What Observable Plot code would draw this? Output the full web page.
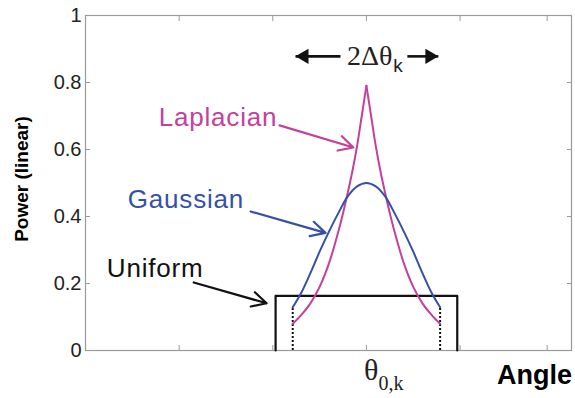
<!DOCTYPE html>
<html>
<head>
<meta charset="utf-8">
<script src="https://cdn.jsdelivr.net/npm/d3@7"></script>
<script src="https://cdn.jsdelivr.net/npm/@observablehq/plot@0.6"></script>
<style>
  html, body { margin: 0; padding: 0; background: #fff; }
  #chart svg { display: block; }
</style>
</head>
<body>
<div id="chart"></div>
<script>
// Angular power profiles around the cluster mean angle θ0,k (angle in tick units)
const gaussX = [-0.787, -0.7, -0.6, -0.5, -0.4, -0.3, -0.2, -0.1, 0, 0.1, 0.2, 0.3, 0.4, 0.5, 0.6, 0.7, 0.787];
const gaussY = [0.129, 0.17, 0.23, 0.295, 0.355, 0.41, 0.46, 0.49, 0.50, 0.49, 0.46, 0.41, 0.355, 0.295, 0.23, 0.17, 0.129];

const lapX = [-0.787, -0.7, -0.6, -0.5, -0.4, -0.3, -0.25, -0.2, -0.15, -0.1, -0.05, 0, 0.05, 0.1, 0.15, 0.2, 0.25, 0.3, 0.4, 0.5, 0.6, 0.7, 0.787];
const lapY = [0.08, 0.105, 0.14, 0.19, 0.26, 0.355, 0.41, 0.47, 0.535, 0.61, 0.70, 0.79, 0.70, 0.61, 0.535, 0.47, 0.41, 0.355, 0.26, 0.19, 0.14, 0.105, 0.08];

// Uniform profile: a box of constant power over the cluster spread
const uniX = [-0.97, -0.97, 0.97, 0.97];
const uniY = [0, 0.163, 0.163, 0];

// Dotted edges of the truncated Gaussian / Laplacian profiles
const edgeX = [-0.787, 0.787];
const edgeTop = 0.129;

// Axis ticks
const xTicks = [-2, -1, 0, 1, 1.93];
const yTicks = [0, 0.2, 0.4, 0.6, 0.8, 1];

// Annotation labels and their pointer arrows
const labelNames = ["Laplacian", "Gaussian", "Uniform"];
const labelX = [-2.218, -2.548, -2.772];
const labelY = [0.669, 0.424, 0.218];
const arrowX1 = [-0.928, -1.237, -1.844];
const arrowY1 = [0.672, 0.415, 0.203];
const arrowX2 = [-0.139, -0.437, -1.066];
const arrowY2 = [0.606, 0.351, 0.141];

// Angular spread marker "2Δθk"
const spanFrom = [-0.277, 0.437];
const spanTip = [-0.757, 0.768];
const spanY = 0.878;
const spanTextX = 0.277;
const spanTextY = 0.851;

const MAGENTA = "#c4409f";
const BLUE = "#3551a6";
const INK = "#111";
const GRID = "#9a9a9a";
const SERIF = "'Liberation Serif', 'Times New Roman', serif";
const labelColors = [MAGENTA, BLUE, INK];

const gauss = gaussX.map((x, i) => ({x, y: gaussY[i]}));
const lap = [];
lapX.forEach((x, i) => {
  if (x <= 0) lap.push({x, y: lapY[i], side: "left"});
  if (x >= 0) lap.push({x, y: lapY[i], side: "right"});
});
const uni = uniX.map((x, i) => ({x, y: uniY[i]}));
const labels = labelNames.map((name, i) => ({name, x: labelX[i], y: labelY[i], color: labelColors[i]}));
const arrows = arrowX1.map((x1, i) => ({x1, y1: arrowY1[i], x2: arrowX2[i], y2: arrowY2[i]}));
const spans = spanFrom.map((x1, i) => ({x1, x2: spanTip[i], y: spanY}));

const fmt = d => (d === 0 || d === 1) ? String(d) : d.toFixed(1);

const chart = Plot.plot({
  width: 575,
  height: 398,
  marginLeft: 85,
  marginRight: 4,
  marginTop: 15,
  marginBottom: 48,
  x: {domain: [-3, 2.19], label: null},
  y: {domain: [0, 1], label: null},
  style: {fontFamily: "'Liberation Sans', Arial, sans-serif", background: "#fff", color: "#222"},
  marks: [
    Plot.frame({stroke: GRID, strokeWidth: 1.2}),
    Plot.axisX({anchor: "bottom", ticks: xTicks, tickSize: -5, tickFormat: () => "", label: null, stroke: GRID}),
    Plot.axisX({anchor: "top", ticks: xTicks, tickSize: -5, tickFormat: () => "", label: null, stroke: GRID}),
    Plot.axisY({anchor: "left", ticks: yTicks, tickSize: -5, tickFormat: () => "", label: null, stroke: GRID}),
    Plot.axisY({anchor: "right", ticks: yTicks, tickSize: -5, tickFormat: () => "", label: null, stroke: GRID}),
    Plot.axisY({anchor: "left", ticks: yTicks, tickSize: 0, tickPadding: 4, tickFormat: fmt, label: null, fontSize: 20, fill: "#222"}),

    // profiles
    Plot.ruleX(edgeX, {x: d => d, y1: 0, y2: edgeTop, stroke: INK, strokeWidth: 2, strokeDasharray: "2,2"}),
    Plot.line(uni, {x: "x", y: "y", stroke: INK, strokeWidth: 2.2}),
    Plot.line(lap, {x: "x", y: "y", z: "side", stroke: MAGENTA, strokeWidth: 2, curve: "catmull-rom"}),
    Plot.line(gauss, {x: "x", y: "y", stroke: BLUE, strokeWidth: 2, curve: "catmull-rom"}),

    // annotations
    Plot.text(labels, {x: "x", y: "y", text: "name", fill: "color", fontSize: 26, textAnchor: "start", lineAnchor: "bottom", ariaDescription: "annotation"}),
    Plot.arrow(arrows, {x1: "x1", y1: "y1", x2: "x2", y2: "y2", stroke: (d, i) => labelColors[i], strokeWidth: 2.2, headLength: 11, headAngle: 55}),

    Plot.link(spans, {x1: "x1", x2: "x2", y1: "y", y2: "y", stroke: INK, strokeWidth: 2.6}),
    Plot.dot(spans.slice(0, 1), {x: "x2", y: "y", symbol: "triangle", r: 5.6, fill: INK, stroke: null, rotate: -90, dx: 8.6}),
    Plot.dot(spans.slice(1), {x: "x2", y: "y", symbol: "triangle", r: 5.6, fill: INK, stroke: null, rotate: 90, dx: -8.6}),
    Plot.text(["2Δθ"], {x: spanTextX, y: spanTextY, text: d => d, fontFamily: SERIF, fontSize: 28, textAnchor: "end", lineAnchor: "bottom", fill: "#222"}),
    Plot.text(["k"], {x: spanTextX, y: spanTextY - 0.021, text: d => d, fontSize: 19, textAnchor: "start", lineAnchor: "bottom", fill: "#222", dx: 1}),

    // axis titles
    Plot.text(["θ"], {x: 0.128, y: -0.087, text: d => d, fontFamily: SERIF, fontSize: 30, textAnchor: "end", lineAnchor: "bottom", fill: "#222"}),
    Plot.text(["0,k"], {x: 0.128, y: -0.119, text: d => d, fontFamily: SERIF, fontSize: 20, textAnchor: "start", lineAnchor: "bottom", fill: "#222"}),
    Plot.text(["Angle"], {x: 2.196, y: -0.1, text: d => d, fontSize: 27, fontWeight: "bold", textAnchor: "end", lineAnchor: "bottom", fill: "#000"}),
    Plot.text(["Power (linear)"], {x: -3.614, y: 0.512, text: d => d, fontSize: 19, fontWeight: "bold", rotate: -90, textAnchor: "middle", lineAnchor: "bottom", fill: "#000"})
  ]
});

d3.select(chart).selectAll('g[aria-description="annotation"] text').style("letter-spacing", "0.8px");
document.getElementById("chart").appendChild(chart);
</script>
</body>
</html>
